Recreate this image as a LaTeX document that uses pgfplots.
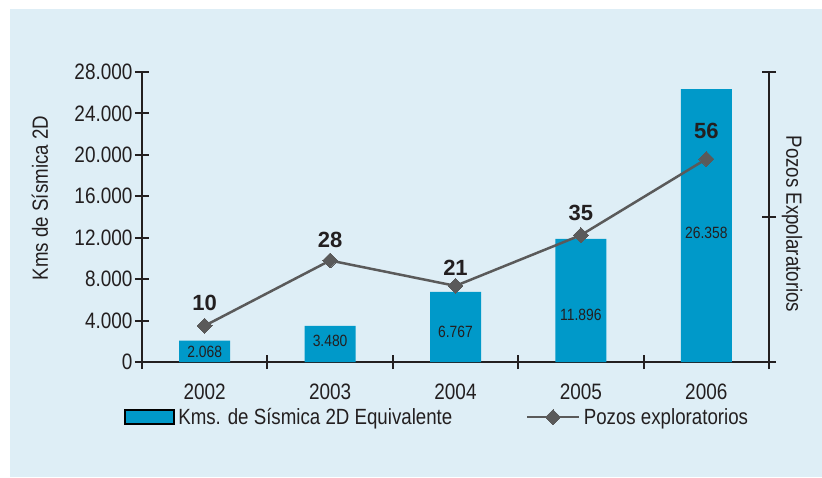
\documentclass[border=0pt]{standalone}
\usepackage{fontspec}
\setmainfont{Liberation Sans}[FakeStretch=0.85]
\newfontfamily\numbold{Liberation Sans}
\usepackage{pgfplots}
\pgfplotsset{compat=1.18}
\definecolor{bgblue}{HTML}{DEEEF6}
\definecolor{barblue}{HTML}{0099C9}
\definecolor{linegray}{HTML}{5A5A5A}
\definecolor{axisblack}{HTML}{231F20}
\pgfplotsset{
  lineleg/.style={legend image code/.code={\draw[##1, mark repeat=2, mark phase=2] plot coordinates {(0pt,0pt) (26pt,0pt) (52pt,0pt)};}},
  barleg/.style={legend image code/.code={\draw[fill=barblue, draw=black, line width=1.6pt] (0pt,-7pt) rectangle (49pt,7pt);}},
}
\begin{document}
\begin{tikzpicture}
\useasboundingbox (-142pt,-115pt) rectangle (680pt,362pt);
\fill[white] (-142pt,-115pt) rectangle (680pt,362pt);
\fill[bgblue] (-132pt,-115pt) rectangle (680pt,353pt);
\begin{axis}[
  at={(0pt,0pt)}, anchor=south west,
  width=627pt, height=290pt, scale only axis, clip=false,
  xmin=0.5, xmax=5.5, ymin=0, ymax=28000,
  axis x line*=bottom, axis y line*=left,
  axis line style={-, line width=2.2pt, color=axisblack},
  xtick={1,2,3,4,5}, xticklabels={2002,2003,2004,2005,2006},
  major x tick style={draw=none},
  minor xtick={0.5,1.5,2.5,3.5,4.5,5.5},
  ytick={0,4000,8000,12000,16000,20000,24000,28000},
  scaled y ticks=false,
  tick align=center, major tick length=14pt, minor tick length=14pt,
  tick style={line width=2pt, color=axisblack},
  tick label style={font=\fontsize{22.3}{26}\selectfont, color=axisblack},
  xticklabel style={yshift=-11pt},
  yticklabel style={xshift=1pt},
  /pgf/number format/.cd, 1000 sep={.}, assume math mode=true, /pgfplots/.cd,
  every axis y label/.style={at={(axis description cs:-0.1627,0.5655)}, rotate=90, anchor=center, font=\fontsize{22}{26}\selectfont, color=axisblack},
  ylabel={Kms de Sísmica 2D},
]
\addplot[ybar, bar width=51pt, fill=barblue, draw=none] coordinates {(1,2068) (2,3480) (3,6767) (4,11896) (5,26358)};
\addplot[only marks, mark=none, point meta=explicit symbolic, nodes near coords,
  nodes near coords style={anchor=center, font=\fontsize{16.3}{19}\selectfont, color=axisblack}]
  coordinates {(1,966)[2.068] (2,2028)[3.480] (3,2900)[6.767] (4,4538)[11.896] (5,12455)[26.358]};
\end{axis}
\begin{axis}[
  at={(0pt,0pt)}, anchor=south west,
  width=627pt, height=290pt, scale only axis, clip=false,
  xmin=0.5, xmax=5.5, ymin=0, ymax=80,
  axis x line=none, axis y line*=right,
  axis line style={-, line width=2.2pt, color=axisblack},
  ytick={0,40,80}, yticklabels={},
  tick align=center, major tick length=14pt,
  tick style={line width=2pt, color=axisblack},
  every axis y label/.style={at={(axis description cs:1.0367,0.476)}, rotate=-90, anchor=center, font=\fontsize{22}{26}\selectfont, color=axisblack},
  ylabel={Pozos Expolaratorios},
  legend columns=2,
  legend style={at={(-0.0287,-0.19)}, anchor=west, draw=none, fill=none, inner sep=0pt,
    font=\fontsize{22}{26}\selectfont, text=axisblack,
    /tikz/every even column/.append style={column sep=70pt},
    nodes={inner sep=3.5pt}},
]
\addlegendimage{barleg}
\addlegendentry{Kms. de Sísmica 2D Equivalente}
\addplot[linegray, line width=2.5pt, mark=square*, mark size=5.3pt,
  mark options={rotate=45, fill=linegray, draw=linegray, line width=0pt},
  lineleg]
  coordinates {(1,10) (2,28) (3,21) (4,35) (5,56)};
\addlegendentry{Pozos exploratorios}
\addplot[only marks, mark=none, point meta=explicit symbolic, nodes near coords,
  nodes near coords style={anchor=center, font=\numbold\bfseries\fontsize{22}{26}\selectfont, color=axisblack},
  forget plot]
  coordinates {(1,16.28)[10] (2,33.57)[28] (3,25.93)[21] (4,41.1)[35] (5,63.86)[56]};
\end{axis}
\end{tikzpicture}
\end{document}
